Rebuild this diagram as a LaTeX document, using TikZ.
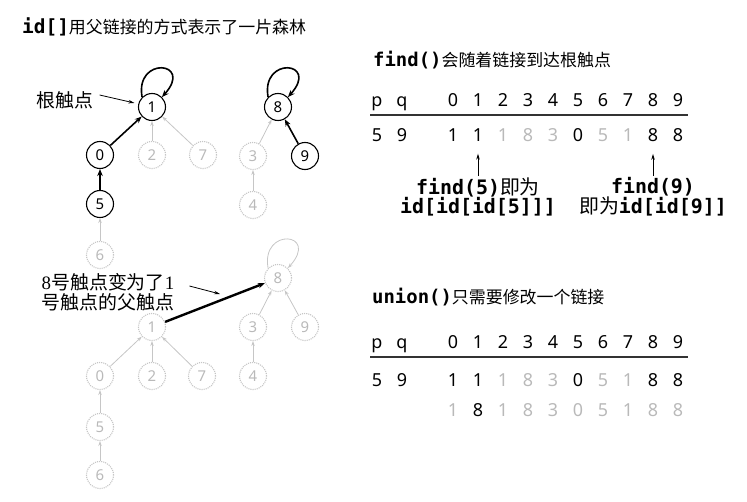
\documentclass[tikz,border=0pt]{standalone}
\usepackage{fontspec}
\setmainfont{Noto Sans}
\newfontfamily\cjk{Noto Sans CJK SC}
\newfontfamily\code{DejaVu Sans Mono}
\newfontfamily\serifdig{Liberation Serif}
\usetikzlibrary{arrows.meta}
\colorlet{faint}{gray!55}
\begin{document}
\begin{tikzpicture}[x=1bp,y=1bp,
  vert/.style={circle,draw=black,line width=1.1bp,minimum size=27bp,inner sep=0pt,font=\fontsize{15}{15}\selectfont},
  dim/.style={vert,draw=gray!45,densely dotted,text=faint},
  link/.style={line width=1.6bp,-{Stealth[length=7bp,width=5.5bp]}},
  dimlink/.style={gray!45,line width=0.8bp,-{Stealth[length=5bp,width=3.5bp]}},
  pointer/.style={line width=0.8bp,-{Stealth[length=6bp,width=3.5bp]}},
  cell/.style={anchor=base,inner sep=0pt,font=\fontsize{18}{18}\selectfont},
  heading/.style={anchor=west,inner sep=0pt,font=\cjk\fontsize{17}{20}\selectfont},
  note/.style={inner sep=0pt,align=center,font=\code\bfseries\fontsize{20}{17.5}\selectfont},
  remark/.style={inner sep=0pt,align=center,font=\cjk\fontsize{19}{20}\selectfont}]
\useasboundingbox (0,0) rectangle (747,-502);
\node[heading] (title) at (22,-27) {{\code\bfseries\fontsize{19.5}{20}\selectfont id[]}用父链接的方式表示了一片森林};
% forest before union
\node[vert] (t1) at (152,-107) {1};
\node[vert] (t8) at (278,-107) {8};
\node[vert] (t0) at (100,-155) {0};
\node[dim] (t2) at (152,-155) {2};
\node[dim] (t7) at (203,-155) {7};
\node[dim] (t3) at (253,-156) {3};
\node[vert] (t9) at (305,-156) {9};
\node[vert] (t5) at (100,-204) {5};
\node[dim] (t4) at (253,-205) {4};
\node[dim] (t6) at (100,-255) {6};
\draw[link] (t0) -- (t1);
\draw[link] (t5) -- (t0);
\draw[link] (t9) -- (t8);
\draw[link] (t1.135) .. controls +(100:42) and +(48:48) .. (t1.45);
\draw[link] (t8.135) .. controls +(100:42) and +(48:48) .. (t8.45);
\foreach \a/\b in {t2/t1,t7/t1,t3/t8,t4/t3,t6/t5}
  \draw[dimlink] (\a) -- (\b);
\node[remark] (rootlbl) at (65,-100) {根触点};
\draw[pointer,shorten >=4bp] ([xshift=6bp,yshift=5bp]rootlbl.east) -- (t1);
% forest after union
\node[dim] (b8) at (278,-278) {8};
\node[dim] (b1) at (152,-327) {1};
\node[dim] (b3) at (253,-327) {3};
\node[dim] (b9) at (305,-327) {9};
\node[dim] (b0) at (100,-376) {0};
\node[dim] (b2) at (152,-376) {2};
\node[dim] (b7) at (202,-376) {7};
\node[dim] (b4) at (253,-376) {4};
\node[dim] (b5) at (100,-427) {5};
\node[dim] (b6) at (100,-475) {6};
\foreach \a/\b in {b0/b1,b2/b1,b7/b1,b3/b8,b9/b8,b4/b3,b5/b0,b6/b5}
  \draw[dimlink] (\a) -- (\b);
\draw[dimlink] (b8.135) .. controls +(100:42) and +(48:48) .. (b8.45);
\draw[link,line width=2.4bp] (b1) -- (b8);
\node[remark] (movelbl) at (108,-292) {{\serifdig 8}号触点变为了{\serifdig 1}\\号触点的父触点};
\coordinate (movetip) at (220,-294);
\draw[pointer] ([xshift=15bp,yshift=6bp]movelbl.east) -- (movetip);
% find() table
\node[heading] (findtitle) at (373,-60) {{\code\bfseries\fontsize{19}{20}\selectfont find()}会随着链接到达根触点};
\node[cell] (fp) at (377,-106.5) {p};
\node[cell] (fq) at (402,-106.5) {q};
\foreach \i in {0,...,9}
  \node[cell] (fh\i) at (453+25*\i,-106.5) {\i};
\draw[line width=1.4bp,black!80] (370,-115) -- (688,-115);
\node[cell] (fr0) at (377,-141.5) {5};
\node[cell] (fr1) at (402,-141.5) {9};
\foreach \v/\c [count=\i from 0] in {1/black,1/black,1/faint,8/faint,3/faint,0/black,5/faint,1/faint,8/black,8/black}
  \node[cell,text=\c] (fa\i) at (453+25*\i,-141.5) {\v};
\node[note] (f5) at (478,-197) {find(5){\cjk\mdseries 即为}\\id[id[id[5]]]};
\node[note] (f9) at (653,-197) {find(9)\\{\cjk\mdseries 即为}id[id[9]]};
\draw[pointer,shorten >=12bp,shorten <=1bp] (f5) -- (fa1);
\draw[pointer,shorten >=12bp,shorten <=1bp] (f9) -- (fa8);
% union() table
\node[heading] (uniontitle) at (372,-297) {{\code\bfseries\fontsize{19}{20}\selectfont union()}只需要修改一个链接};
\node[cell] (up) at (377,-348.5) {p};
\node[cell] (uq) at (402,-348.5) {q};
\foreach \i in {0,...,9}
  \node[cell] (uh\i) at (453+25*\i,-348.5) {\i};
\draw[line width=1.4bp,black!80] (370,-357) -- (688,-357);
\node[cell] (ur0) at (377,-386.5) {5};
\node[cell] (ur1) at (402,-386.5) {9};
\foreach \v/\c [count=\i from 0] in {1/black,1/black,1/faint,8/faint,3/faint,0/black,5/faint,1/faint,8/black,8/black}
  \node[cell,text=\c] (ua\i) at (453+25*\i,-386.5) {\v};
\foreach \v/\c [count=\i from 0] in {1/faint,8/black,1/faint,8/faint,3/faint,0/faint,5/faint,1/faint,8/faint,8/faint}
  \node[cell,text=\c] (ub\i) at (453+25*\i,-416.5) {\v};
\end{tikzpicture}
\end{document}
